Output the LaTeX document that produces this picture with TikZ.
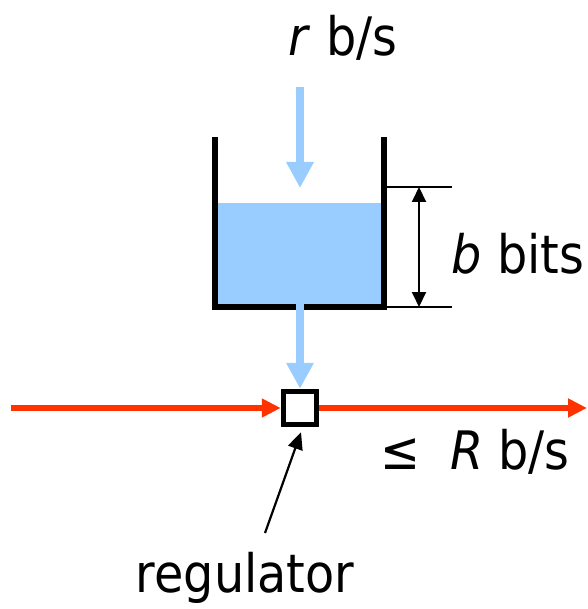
\documentclass[tikz,border=0pt]{standalone}
\usepackage{fontspec}
\setmainfont{DejaVu Sans Condensed}[ItalicFont={DejaVu Sans Condensed Oblique}]
\usetikzlibrary{arrows.meta,positioning}
\definecolor{water}{HTML}{99CCFF}
\definecolor{link}{HTML}{FF3300}
\tikzset{
  lbl/.style={inner sep=0pt,font=\fontsize{53}{58}\selectfont},
  wall/.style={line width=6pt,line join=miter},
  bflow/.style={-{Triangle[length=26pt,width=26pt]},water,line width=8.5pt},
  rflow/.style={-{Triangle[length=19pt,width=18pt]},link,line width=5.5pt},
  dim/.style={{Triangle[length=15pt,width=14pt]}-{Triangle[length=15pt,width=14pt]},line width=2pt},
  dimtick/.style={line width=1.5pt},
  pointer/.style={-{Triangle[length=17pt,width=15pt]},line width=2.2pt},
}

\begin{document}
\begin{tikzpicture}[x=1pt,y=-1pt,
          regbox/.style={draw,line width=5.5pt,fill=white,minimum size=33pt,inner sep=0pt}]
        \useasboundingbox (0,0) rectangle (587,609);
        % bucket and its contents
        \fill[water] (217,203) rectangle (382,305);
        \draw[wall] (215,137) -- (215,307) -- (384,307) -- (384,137);
        \node[regbox] (reg) at (300,408) {};
        \coordinate (inlet) at (300,87);
        \coordinate (level) at (300,203);
        \draw[bflow] (inlet) -- (300,188);
        \draw[bflow] (level) -- (reg.north);
        % size of the bucket
        \coordinate (topdim) at (419,187);
        \coordinate (botdim) at (419,307);
        \draw[dimtick] (384,187) -- (452,187);
        \draw[dimtick] (384,307) -- (452,307);
        \draw[dim] (topdim) -- (botdim);
        % output link
        \coordinate (src) at (11,408);
        \coordinate (dst) at (587,408);
        \draw[rflow] (src) -- (reg.west);
        \draw[rflow] (reg.east) -- (dst);
        % labels
        \node[lbl] (rate) at (343,38) {\textit{r} b/s};
        \node[lbl] (bits) at (518,254) {\textit{b} bits};
        \node[lbl] (out)  at (475,452) {≤\ \ \textit{R} b/s};
        \node[lbl] (name) at (245,578) {regulator};
        \coordinate (ptr) at (265,533);
        \draw[pointer] (ptr) -- ([xshift=1pt,yshift=-5pt]reg.south);
      \end{tikzpicture}
\end{document}
